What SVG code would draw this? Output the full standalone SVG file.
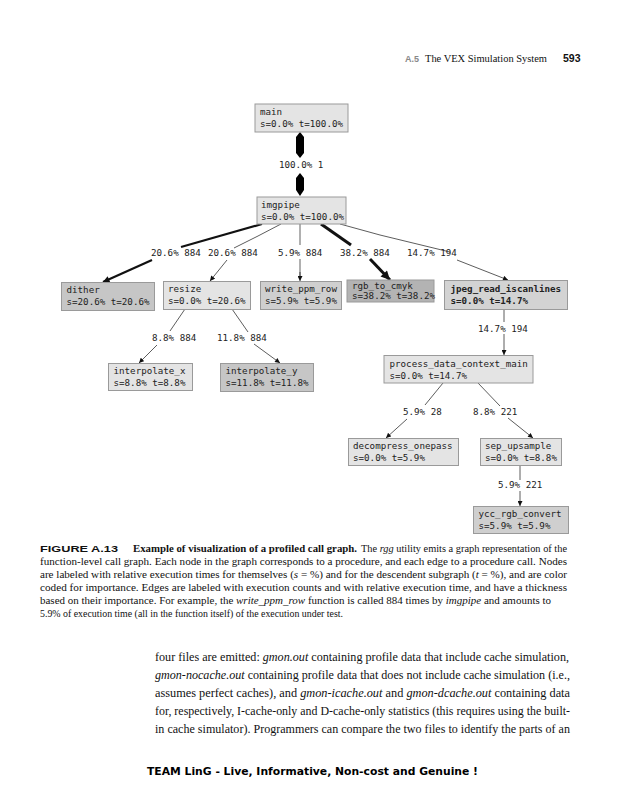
<svg xmlns="http://www.w3.org/2000/svg" width="635" height="800" viewBox="0 0 635 800">
<style>
.bg{fill:#ffffff}
.n{stroke:#9a9a9a;stroke-width:1}
.l1{fill:#e4e4e4}
.dk1{fill:#c6c6c6}
.dk2{fill:#cfcfcf}
.dk3{fill:#b3b3b3}
.dk4{fill:#d3d3d3}
.t{font-family:"DejaVu Sans Mono","Liberation Mono",monospace;font-size:9.2px;fill:#222}
.tb{font-weight:bold}
.e{fill:none;stroke:#333;stroke-width:0.8}
.e2{fill:none;stroke:#111;stroke-width:2.2}
.e3{fill:none;stroke:#111;stroke-width:3}
.eg{fill:none;stroke:#b0b0b0;stroke-width:2}
.el{font-family:"DejaVu Sans Mono","Liberation Mono",monospace;font-size:9.2px;fill:#222}
.cap{font-family:"Liberation Serif",serif;font-size:11px;fill:#111}
.body{font-family:"Liberation Serif",serif;font-size:12.5px;fill:#111}
.hd{font-family:"Liberation Serif",serif;font-size:11px;fill:#111}
.sans{font-family:"Liberation Sans",Arial,sans-serif;font-weight:bold}
</style>
<defs>
<marker id="a" viewBox="0 0 10 10" refX="10" refY="5" markerWidth="6" markerHeight="5" orient="auto" markerUnits="userSpaceOnUse"><path d="M0,0 L10,5 L0,10 z" fill="#111"/></marker>
<marker id="a2" viewBox="0 0 10 10" refX="10" refY="5" markerWidth="8" markerHeight="6.5" orient="auto" markerUnits="userSpaceOnUse"><path d="M0,0 L10,5 L0,10 z" fill="#111"/></marker>
<marker id="a3" viewBox="0 0 10 10" refX="10" refY="5" markerWidth="11" markerHeight="9" orient="auto" markerUnits="userSpaceOnUse"><path d="M0,0 L10,5 L0,10 z" fill="#111"/></marker>
</defs>
<rect class="bg" x="0" y="0" width="635" height="800"/>

<!-- header -->
<text x="405" y="62" class="sans" font-size="9px" fill="#888">A.5</text>
<text x="425" y="62" class="hd" textLength="122" lengthAdjust="spacingAndGlyphs">The VEX Simulation System</text>
<text x="563" y="62" class="sans" font-size="10.5px" fill="#111">593</text>

<!-- connectors -->
<g id="connectors">
<polygon points="300,132 304,137 304,153 300,158 296,153 296,137" fill="#000"/>
<polygon points="300,173 304,178 304,190 300,196 296,190 296,178" fill="#000"/>
<text x="279" y="168" class="el">100.0% 1</text>

<path class="e2" d="M262,224 L181,247"/>
<path class="e2" d="M152,260 L103,282" marker-end="url(#a2)"/>
<text x="151" y="256" class="el">20.6% 884</text>

<path class="e" d="M281,224 L258,236 L234,248"/>
<path class="e" d="M227,260 L210,281" marker-end="url(#a)"/>
<text x="208" y="256" class="el">20.6% 884</text>

<path class="eg" d="M300,224 L300,245"/>
<path class="eg" d="M300,259 L300,276"/>
<path class="e" d="M300,272 L300,281" marker-end="url(#a)"/>
<text x="278" y="256" class="el">5.9% 884</text>

<path class="e3" d="M321,224 L351,245"/>
<path class="e3" d="M370,259 L390,280" marker-end="url(#a3)"/>
<text x="340" y="256" class="el">38.2% 884</text>

<path class="e" d="M340,224 L380,235 L450,252"/>
<path class="e" d="M457,260 L508,280" marker-end="url(#a)"/>
<text x="407" y="256" class="el">14.7% 194</text>

<path class="e" d="M185,309 L170,331"/>
<path class="e" d="M157,345 L139,363" marker-end="url(#a)"/>
<text x="152" y="340.5" class="el">8.8% 884</text>

<path class="e" d="M232,309 L248,332"/>
<path class="e" d="M254,344 L280,363" marker-end="url(#a)"/>
<text x="217" y="340.5" class="el">11.8% 884</text>

<path class="e" d="M504,309 L504,322"/>
<path class="e" d="M504,334 L504,355" marker-end="url(#a)"/>
<text x="478" y="331.5" class="el">14.7% 194</text>

<path class="e" d="M443,383 L425,405"/>
<path class="e" d="M407,419 L386,438" marker-end="url(#a)"/>
<text x="403" y="415" class="el">5.9% 28</text>

<path class="e" d="M478,383 L500,406"/>
<path class="e" d="M508,418 L533,438" marker-end="url(#a)"/>
<text x="473" y="415" class="el">8.8% 221</text>

<path class="e" d="M520,465 L520,480"/>
<path class="e" d="M520,491 L520,506" marker-end="url(#a)"/>
<text x="498" y="488" class="el">5.9% 221</text>
</g>

<!-- nodes -->
<g id="main"><rect class="n l1" x="255" y="104" width="93" height="28"/><text class="t" x="260" y="115">main</text><text class="t" x="260" y="127">s=0.0% t=100.0%</text></g>
<g id="imgpipe"><rect class="n l1" x="257" y="197" width="89" height="27"/><text class="t" x="261" y="207.5">imgpipe</text><text class="t" x="261" y="219.5">s=0.0% t=100.0%</text></g>
<g id="dither"><rect class="n dk1" x="61.5" y="282.5" width="93" height="28"/><text class="t" x="66.5" y="293">dither</text><text class="t" x="66.5" y="305">s=20.6% t=20.6%</text></g>
<g id="resize"><rect class="n l1" x="163.5" y="281.5" width="87" height="28"/><text class="t" x="168" y="292">resize</text><text class="t" x="168" y="304">s=0.0% t=20.6%</text></g>
<g id="write_ppm_row"><rect class="n dk2" x="260.5" y="281.5" width="81" height="28"/><text class="t" x="265" y="292">write_ppm_row</text><text class="t" x="265" y="304">s=5.9% t=5.9%</text></g>
<g id="rgb_to_cmyk"><rect class="n dk3" x="347" y="280" width="87" height="22"/><text class="t" x="352" y="288.5" font-size="8.3px">rgb_to_cmyk</text><text class="t" x="352" y="299" font-size="8.3px">s=38.2% t=38.2%</text></g>
<g id="jpeg_read_iscanlines"><rect class="n dk4" x="444.5" y="280.5" width="123" height="29"/><text class="t tb" x="450.5" y="292">jpeg_read_iscanlines</text><text class="t tb" x="450.5" y="304">s=0.0% t=14.7%</text></g>
<g id="interpolate_x"><rect class="n l1" x="108.5" y="363.5" width="84" height="27"/><text class="t" x="113.5" y="374">interpolate_x</text><text class="t" x="113.5" y="386">s=8.8% t=8.8%</text></g>
<g id="interpolate_y"><rect class="n dk1" x="220.5" y="363.5" width="93" height="28"/><text class="t" x="225.5" y="374">interpolate_y</text><text class="t" x="225.5" y="386">s=11.8% t=11.8%</text></g>
<g id="process_data_context_main"><rect class="n l1" x="384" y="355.5" width="149" height="27.5"/><text class="t" x="389.5" y="366.5">process_data_context_main</text><text class="t" x="389.5" y="378.5">s=0.0% t=14.7%</text></g>
<g id="decompress_onepass"><rect class="n l1" x="348.5" y="438.5" width="110" height="27"/><text class="t" x="353" y="449">decompress_onepass</text><text class="t" x="353" y="461">s=0.0% t=5.9%</text></g>
<g id="sep_upsample"><rect class="n l1" x="480.5" y="438.5" width="81" height="27"/><text class="t" x="485" y="449">sep_upsample</text><text class="t" x="485" y="461">s=0.0% t=8.8%</text></g>
<g id="ycc_rgb_convert"><rect class="n dk2" x="473.5" y="506.5" width="95" height="27"/><text class="t" x="478.5" y="517">ycc_rgb_convert</text><text class="t" x="478.5" y="529">s=5.9% t=5.9%</text></g>

<!-- caption -->
<text x="40" y="552" class="sans" font-size="9.5px" fill="#111" textLength="78" lengthAdjust="spacingAndGlyphs">FIGURE A.13</text>
<text x="133" y="552" class="cap" font-weight="bold" textLength="224" lengthAdjust="spacingAndGlyphs">Example of visualization of a profiled call graph.</text>
<text x="361" y="552" class="cap" textLength="206" lengthAdjust="spacingAndGlyphs">The <tspan font-style="italic">rgg</tspan> utility emits a graph representation of the</text>
<text x="40" y="565" class="cap" textLength="527" lengthAdjust="spacingAndGlyphs">function-level call graph. Each node in the graph corresponds to a procedure, and each edge to a procedure call. Nodes</text>
<text x="40" y="578" class="cap" textLength="527" lengthAdjust="spacingAndGlyphs">are labeled with relative execution times for themselves (<tspan font-style="italic">s</tspan> = %) and for the descendent subgraph (<tspan font-style="italic">t</tspan> = %), and are color</text>
<text x="40" y="591" class="cap" textLength="527" lengthAdjust="spacingAndGlyphs">coded for importance. Edges are labeled with execution counts and with relative execution time, and have a thickness</text>
<text x="40" y="604" class="cap" textLength="511" lengthAdjust="spacingAndGlyphs">based on their importance. For example, the <tspan font-style="italic">write_ppm_row</tspan> function is called 884 times by <tspan font-style="italic">imgpipe</tspan> and amounts to</text>
<text x="40" y="617" class="cap" textLength="303" lengthAdjust="spacingAndGlyphs">5.9% of execution time (all in the function itself) of the execution under test.</text>

<!-- body -->
<text x="155" y="661" class="body" textLength="414" lengthAdjust="spacingAndGlyphs">four files are emitted: <tspan font-style="italic">gmon.out</tspan> containing profile data that include cache simulation,</text>
<text x="155" y="679" class="body" textLength="415" lengthAdjust="spacingAndGlyphs"><tspan font-style="italic">gmon-nocache.out</tspan> containing profile data that does not include cache simulation (i.e.,</text>
<text x="155" y="697" class="body" textLength="415" lengthAdjust="spacingAndGlyphs">assumes perfect caches), and <tspan font-style="italic">gmon-icache.out</tspan> and <tspan font-style="italic">gmon-dcache.out</tspan> containing data</text>
<text x="155" y="715" class="body" textLength="415" lengthAdjust="spacingAndGlyphs">for, respectively, I-cache-only and D-cache-only statistics (this requires using the built-</text>
<text x="155" y="733" class="body" textLength="415" lengthAdjust="spacingAndGlyphs">in cache simulator). Programmers can compare the two files to identify the parts of an</text>

<!-- footer -->
<text x="147" y="775" font-family="'DejaVu Sans',sans-serif" font-weight="bold" font-size="10px" fill="#000" textLength="331" lengthAdjust="spacingAndGlyphs">TEAM LinG - Live, Informative, Non-cost and Genuine !</text>
</svg>
